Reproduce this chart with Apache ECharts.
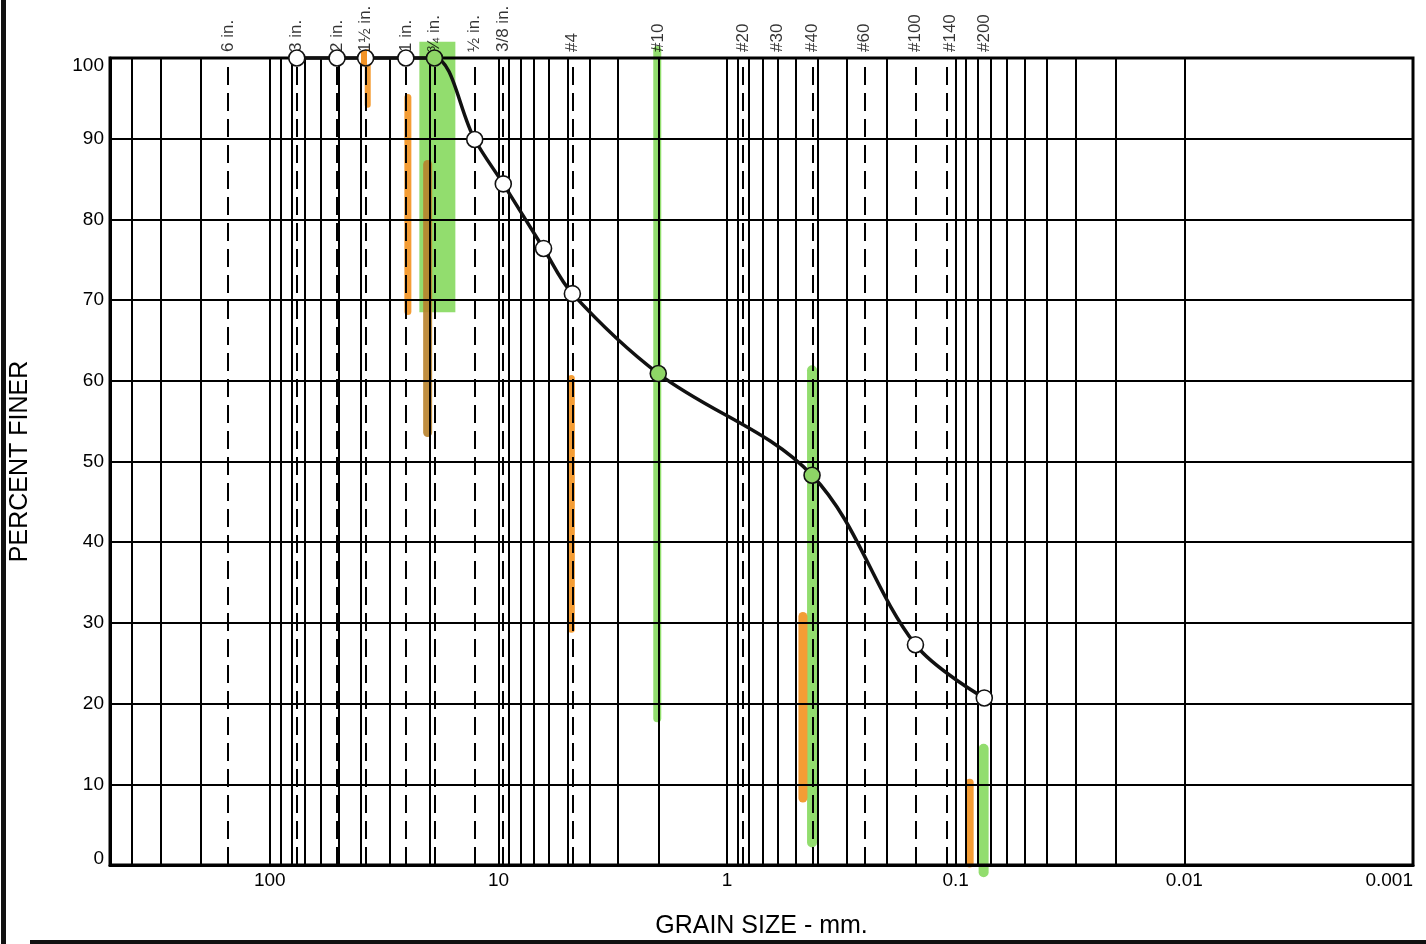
<!DOCTYPE html>
<html>
<head>
<meta charset="utf-8">
<script src="https://cdn.jsdelivr.net/npm/echarts@6/dist/echarts.min.js"></script>
<style>
html,body{margin:0;padding:0;background:#fff;}
#chart{width:1426px;height:944px;}
</style>
</head>
<body>
<div id="chart"></div>
<script>
// ---- data ----
const sieveSizes = [152.4, 76.2, 50.8, 38.1, 25.4, 19.05, 12.7, 9.525, 4.75, 2.0, 0.85, 0.6, 0.425, 0.25, 0.15, 0.106, 0.075];
const sieveLabels = ['6 in.', '3 in.', '2 in.', '1\u00BD in.', '1 in.', '\u00BE in.', '\u00BD in.', '3/8 in.', '#4', '#10', '#20', '#30', '#40', '#60', '#100', '#140', '#200'];

const grainSize = [76.2, 50.8, 38.1, 25.4, 19.05, 12.7, 9.525, 6.35, 4.75, 2.0, 0.425, 0.15, 0.075];
const percentFiner = [100, 100, 100, 100, 100, 89.9, 84.4, 76.4, 70.8, 60.9, 48.3, 27.3, 20.7];

const xTickValues = [100, 10, 1, 0.1, 0.01, 0.001];
const xTickLabels = ['100', '10', '1', '0.1', '0.01', '0.001'];
const yTickLabels = ['0', '10', '20', '30', '40', '50', '60', '70', '80', '90', '100'];

const gridMantissas = [1, 2, 3, 4, 5, 6, 7, 8, 9];
const gridDecades = [-3, -2, -1, 0, 1, 2];

// hand-drawn highlighter marks (size in mm, top %, bottom %)
const greenMarkSize = [18.5, 2.02, 0.425, 0.0755];
const greenMarkTop = [102.0, 101.0, 61.3, 14.4];
const greenMarkBottom = [68.5, 18.2, 2.8, -0.9];
const orangeMarkSize = [37.3, 24.9, 4.80, 0.466, 0.0869];
const orangeMarkTop = [100.7, 95.1, 60.3, 30.8, 10.2];
const orangeMarkBottom = [94.2, 68.6, 29.2, 8.3, 0.2];
const brownMarkSize = [20.4];
const brownMarkTop = [86.8];
const brownMarkBottom = [53.6];

// ---- styles ----
const greenWidths = [36, 8, 10, 10];
const greenCaps = ['butt', 'round', 'round', 'round'];
const orangeWidths = [6, 7, 7, 9, 8];
const brownWidths = [9];
const FONT = "'Liberation Sans', Arial, Helvetica, sans-serif";

const gridValues = [];
gridDecades.forEach(e => gridMantissas.forEach(m => {
  const v = +(m * Math.pow(10, e)).toPrecision(6);
  if (v < 500) gridValues.push(v);
}));

function markSeries(sizes, tops, bottoms, widths, color, caps) {
  return sizes.map((s, i) => ({
    type: 'line', silent: true, clip: false, z: 1, symbol: 'none',
    data: [[s, tops[i]], [s, bottoms[i]]],
    lineStyle: { color: color, width: widths[i], cap: caps ? caps[i] : 'round', opacity: 0.9 },
    animation: false
  }));
}

const greenFill = '#8ed566';
const pointColors = grainSize.map((d, i) => {
  if (i === 4 || i === 9 || i === 10) return greenFill;
  if (i === 2) return { type: 'linear', x: 0, y: 0, x2: 1, y2: 0,
    colorStops: [{offset: 0, color: '#fff'}, {offset: 0.25, color: '#fff'}, {offset: 0.25, color: '#f39325'},
                 {offset: 0.6, color: '#f39325'}, {offset: 0.6, color: '#fff'}, {offset: 1, color: '#fff'}] };
  return '#ffffff';
});

const chart = echarts.init(document.getElementById('chart'), null, {renderer: 'canvas'});
const option = {
  backgroundColor: '#fff',
  animation: false,
  textStyle: { fontFamily: FONT },
  grid: { left: 110, right: 13, top: 58, bottom: 74, show: true, borderColor: '#000', borderWidth: 3, z: 4 },
  xAxis: {
    type: 'log', logBase: 10, min: 0.001, max: 500, inverse: true, z: 4,
    name: 'GRAIN SIZE - mm.', nameLocation: 'middle', nameGap: 49,
    nameTextStyle: { color: '#000', fontSize: 25, fontFamily: FONT },
    axisLine: { show: true, lineStyle: { color: '#000', width: 3 } },
    axisTick: { show: false },
    splitLine: { show: false },
    axisLabel: {
      color: '#000', fontSize: 19, fontFamily: FONT, margin: 6,
      showMaxLabel: false, alignMinLabel: 'right',
      formatter: v => {
        for (let i = 0; i < xTickValues.length; i++) {
          if (Math.abs(Math.log10(v) - Math.log10(xTickValues[i])) < 1e-6) return xTickLabels[i];
        }
        return '';
      }
    }
  },
  yAxis: {
    type: 'value', min: 0, max: 100, interval: 10, z: 4,
    name: 'PERCENT FINER', nameLocation: 'middle', nameGap: 77,
    nameTextStyle: { color: '#000', fontSize: 25, fontFamily: FONT },
    axisLine: { show: true, lineStyle: { color: '#000', width: 3 } },
    axisTick: { show: false },
    splitLine: { show: true, lineStyle: { color: '#000', width: 2 } },
    axisLabel: {
      color: '#000', fontSize: 19, fontFamily: FONT, margin: 6,
      formatter: v => {
        const t = yTickLabels[Math.round(v / 10)];
        if (v === 100) return '{lo|' + t + '}';
        if (v === 0) return '{hi|' + t + '}';
        return t;
      },
      rich: {
        lo: { fontSize: 19, fontFamily: FONT, color: '#000', padding: [16, 0, 0, 0] },
        hi: { fontSize: 19, fontFamily: FONT, color: '#000', padding: [0, 0, 12, 0] }
      }
    }
  },
  graphic: [
    { type: 'rect', left: 1, top: 0, shape: { width: 5, height: 944 }, style: { fill: '#111' }, silent: true },
    { type: 'rect', left: 30, top: 940, shape: { width: 1396, height: 4 }, style: { fill: '#111' }, silent: true },
    { type: 'rect', left: 296, top: 940, shape: { width: 2, height: 4 }, style: { fill: '#111' }, silent: true }
  ],
  series: [
    ...markSeries(greenMarkSize, greenMarkTop, greenMarkBottom, greenWidths, '#86d95e', greenCaps),
    ...markSeries(orangeMarkSize, orangeMarkTop, orangeMarkBottom, orangeWidths, '#f3921f'),
    ...markSeries(brownMarkSize, brownMarkTop, brownMarkBottom, brownWidths, '#b8822c'),
    {
      type: 'line', data: [], silent: true, z: 3,
      markLine: {
        silent: true, symbol: 'none', animation: false, label: { show: false },
        lineStyle: { color: '#000', width: 2, type: 'solid' },
        data: gridValues.map(v => ({ xAxis: v }))
      }
    },
    {
      type: 'line', data: [], silent: true, z: 3,
      markLine: {
        silent: true, symbol: 'none', animation: false, label: { show: false },
        lineStyle: { color: '#000', width: 2, type: [18, 8] },
        data: sieveSizes.map(v => ({ xAxis: v }))
      }
    },
    {
      type: 'scatter', silent: true, clip: false, z: 6, symbolSize: 0,
      data: sieveSizes.map((v, i) => ({ value: [v, 100], name: sieveLabels[i] })),
      label: {
        show: true, position: 'top', distance: 6, rotate: 90,
        align: 'left', verticalAlign: 'middle',
        formatter: p => p.name, color: '#000', fontSize: 17, fontFamily: FONT
      }
    },
    {
      type: 'line', z: 10, smooth: 0.35, clip: false,
      data: grainSize.map((d, i) => ({ value: [d, percentFiner[i]], itemStyle: { color: pointColors[i] } })),
      symbol: 'circle', symbolSize: 16, showSymbol: true,
      lineStyle: { color: '#111', width: 3.5 },
      itemStyle: { color: '#fff', borderColor: '#111', borderWidth: 1.6 }
    }
  ]
};
chart.setOption(option);
</script>
</body>
</html>
